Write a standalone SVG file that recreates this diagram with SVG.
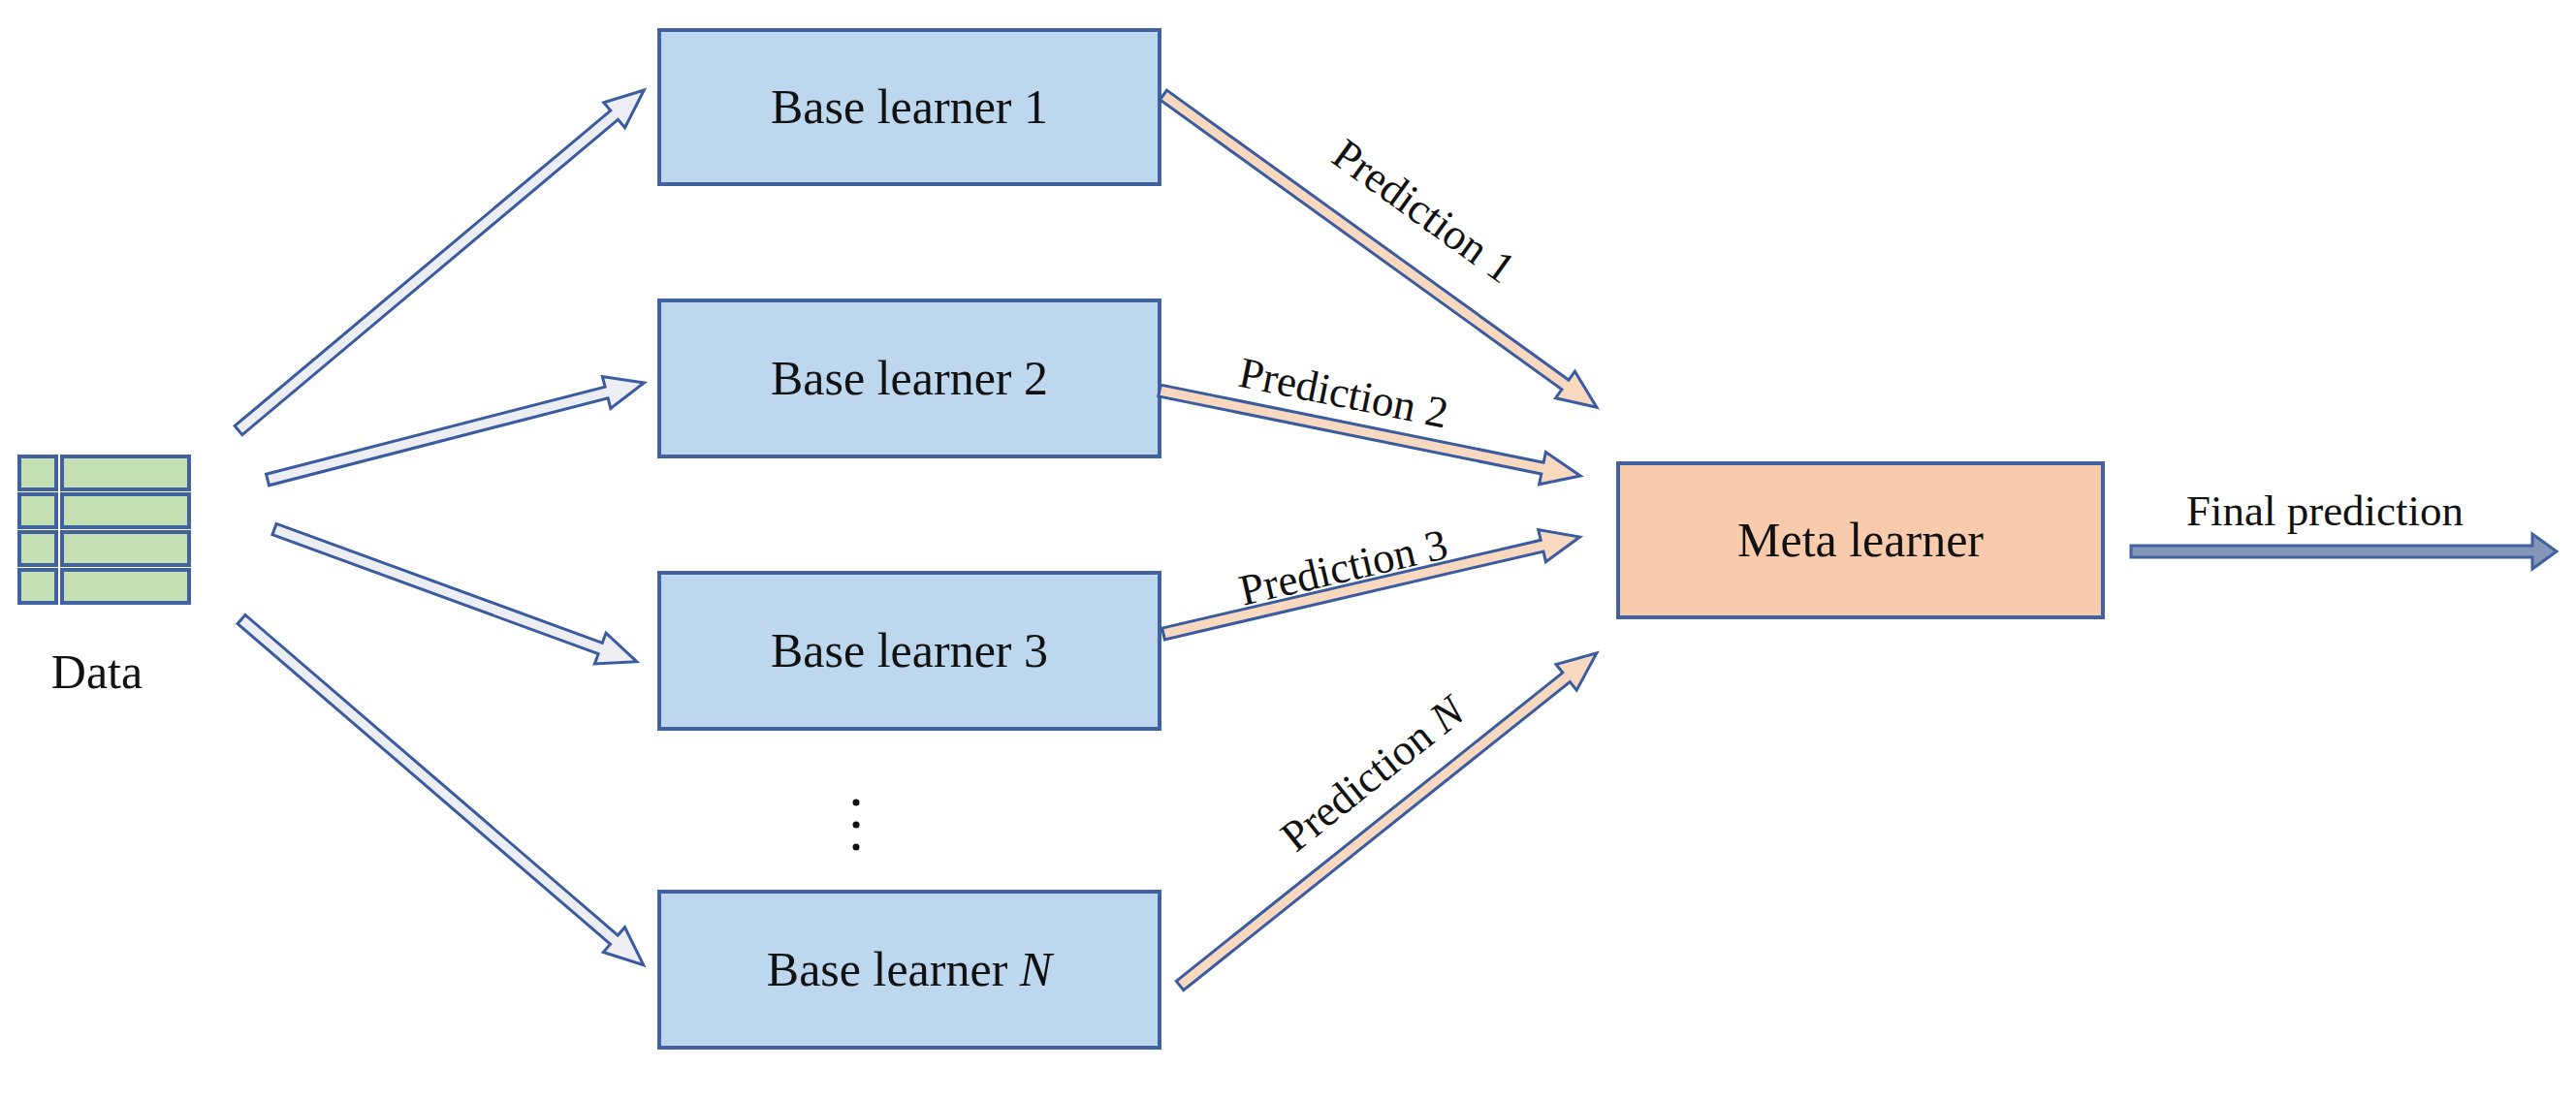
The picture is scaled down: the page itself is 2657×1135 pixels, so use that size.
<svg xmlns="http://www.w3.org/2000/svg" width="2657" height="1135" viewBox="0 0 2657 1135">
<style>
.box{fill:#bdd7ee;stroke:#41629e;stroke-width:4}
.meta{fill:#f8cbad;stroke:#41629e;stroke-width:4}
.t{font-family:"Liberation Serif",serif;font-size:50px;fill:#111;text-anchor:middle}
.lbl{font-family:"Liberation Serif",serif;font-size:45px;fill:#111;text-anchor:middle}
.cell{fill:#c5e0b4;stroke:#41629e;stroke-width:4}
.ain{fill:#eceef3;stroke:#3a5ba0;stroke-width:3}
.aout{fill:#f8d9c0;stroke:#3a5ba0;stroke-width:3}
</style>
<rect width="2657" height="1135" fill="#fff"/>
<g id="data">
<rect class="cell" x="20" y="471" width="38" height="34"/><rect class="cell" x="64" y="471" width="131" height="34"/>
<rect class="cell" x="20" y="510" width="38" height="34"/><rect class="cell" x="64" y="510" width="131" height="34"/>
<rect class="cell" x="20" y="549" width="38" height="34"/><rect class="cell" x="64" y="549" width="131" height="34"/>
<rect class="cell" x="20" y="588" width="38" height="34"/><rect class="cell" x="64" y="588" width="131" height="34"/>
<text class="t" x="100" y="710">Data</text>
</g>
<g id="b1"><rect class="box" x="680" y="31" width="516" height="159"/><text class="t" x="938" y="127">Base learner 1</text></g>
<g id="b2"><rect class="box" x="680" y="310" width="516" height="161"/><text class="t" x="938" y="407">Base learner 2</text></g>
<g id="b3"><rect class="box" x="680" y="591" width="516" height="161"/><text class="t" x="938" y="688">Base learner 3</text></g>
<g id="bn"><rect class="box" x="680" y="920" width="516" height="161"/><text class="t" x="938" y="1017">Base learner <tspan font-style="italic">N</tspan></text></g>
<g id="dots" fill="#111"><circle cx="883" cy="828" r="3.5"/><circle cx="883" cy="851" r="3.5"/><circle cx="883" cy="874" r="3.5"/></g>
<g id="meta"><rect class="meta" x="1669" y="478" width="500" height="159"/><text class="t" x="1919" y="574">Meta learner</text></g>
<g id="connectors">
<g transform="translate(246,444) rotate(-40)"><polygon class="ain" points="0,-6 506,-6 506,-17 546,0 506,17 506,6 0,6"/></g>
<g transform="translate(276,495) rotate(-14.45)"><polygon class="ain" points="0,-6 361,-6 361,-17 401,0 361,17 361,6 0,6"/></g>
<g transform="translate(283,546) rotate(20.1)"><polygon class="ain" points="0,-6 358,-6 358,-17 398,0 358,17 358,6 0,6"/></g>
<g transform="translate(249,639) rotate(40.7)"><polygon class="ain" points="0,-6 507,-6 507,-17 547,0 507,17 507,6 0,6"/></g>
<g transform="translate(1200,98) rotate(35.8)"><polygon class="aout" points="0,-6 511,-6 511,-17 551,0 511,17 511,6 0,6"/></g>
<g transform="translate(1196,403) rotate(11.46)"><polygon class="aout" points="0,-6 403,-6 403,-17 443,0 403,17 403,6 0,6"/></g>
<g transform="translate(1200,654) rotate(-13.1)"><polygon class="aout" points="0,-6 401,-6 401,-17 441,0 401,17 401,6 0,6"/></g>
<g transform="translate(1217,1017) rotate(-38.6)"><polygon class="aout" points="0,-6 510,-6 510,-17 550,0 510,17 510,6 0,6"/></g>
<polygon points="2198,563 2612,563 2612,551 2637,569 2612,587 2612,575 2198,575" fill="#8497b8" stroke="#41629e" stroke-width="3"/>
</g>
<g id="labels">
<text class="lbl" transform="translate(1460,230) rotate(35.8)">Prediction 1</text>
<text class="lbl" transform="translate(1383,420) rotate(11.5)">Prediction 2</text>
<text class="lbl" transform="translate(1389,600) rotate(-13.1)">Prediction 3</text>
<text class="lbl" transform="translate(1425,810) rotate(-38.6)">Prediction <tspan font-style="italic">N</tspan></text>
<text class="lbl" x="2398" y="542">Final prediction</text>
</g>
</svg>
